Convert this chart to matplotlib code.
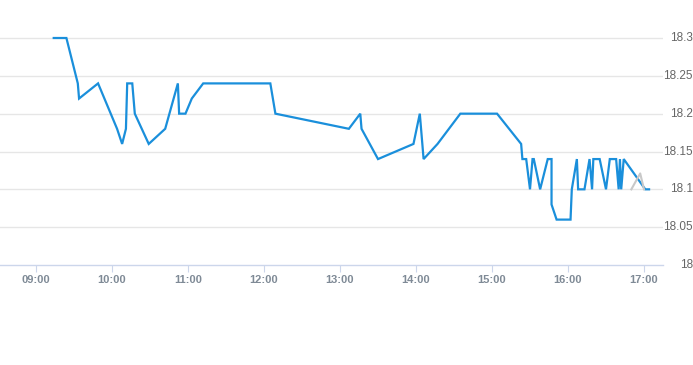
import matplotlib
matplotlib.use("Agg")
import matplotlib.pyplot as plt

# price series (time, value)
times = ["09:14", "09:24", "09:33", "09:34", "09:49", "10:04", "10:08", "10:11",
         "10:12", "10:16", "10:18", "10:29", "10:42", "10:52", "10:53", "10:58",
         "11:03", "11:12", "12:05", "12:09", "13:07", "13:16", "13:17", "13:30",
         "13:58", "14:03", "14:06", "14:17", "14:35", "15:04", "15:23", "15:24",
         "15:27", "15:30", "15:32", "15:33", "15:38", "15:44", "15:47", "15:47",
         "15:51", "16:02", "16:03", "16:07", "16:08", "16:13", "16:17", "16:19",
         "16:20", "16:25", "16:30", "16:33", "16:38", "16:40", "16:41", "16:42",
         "16:44", "17:01", "17:04"]
prices = [18.30, 18.30, 18.24, 18.22, 18.24, 18.18, 18.16, 18.18,
          18.24, 18.24, 18.20, 18.16, 18.18, 18.24, 18.20, 18.20,
          18.22, 18.24, 18.24, 18.20, 18.18, 18.20, 18.18, 18.14,
          18.16, 18.20, 18.14, 18.16, 18.20, 18.20, 18.16, 18.14,
          18.14, 18.10, 18.14, 18.14, 18.10, 18.14, 18.14, 18.08,
          18.06, 18.06, 18.10, 18.14, 18.10, 18.10, 18.14, 18.10,
          18.14, 18.14, 18.10, 18.14, 18.14, 18.10, 18.14, 18.10,
          18.14, 18.10, 18.10]

# small grey marker series near the close
marker_times = ["16:50", "16:57", "17:00"]
marker_vals = [18.10, 18.121, 18.10]

yticks = [18.0, 18.05, 18.1, 18.15, 18.2, 18.25, 18.3]
ytick_labels = ["18", "18.05", "18.1", "18.15", "18.2", "18.25", "18.3"]
xtick_labels = ["09:00", "10:00", "11:00", "12:00", "13:00", "14:00", "15:00", "16:00", "17:00"]


def to_h(s):
    h, m = s.split(":")
    return int(h) + int(m) / 60.0


x = [to_h(t) for t in times]
mx = [to_h(t) for t in marker_times]
xt = [to_h(t) for t in xtick_labels]

fig = plt.figure(figsize=(6.93, 3.65), dpi=100)
ax = fig.add_axes([0, 100 / 365, 663 / 693, 245 / 365])

# x range: 09:00 sits at 36px, 76px per hour
x0 = 9 - 36 / 76
x1 = 9 + (663 - 36) / 76
ax.set_xlim(x0, x1)
ytop = 18.3 + (38 - 20) * 0.3 / 227
ax.set_ylim(18.0, ytop)

for v in yticks[1:]:
    ax.axhline(v, color="#e6e6e6", lw=1, zorder=0)

ax.plot(x, prices, color="#1a8fdb", lw=1.6, zorder=3, solid_joinstyle="miter")
ax.plot(mx, marker_vals, color="#c8c8c8", lw=1.5, zorder=4)

for s in ax.spines.values():
    s.set_visible(False)
ax.spines["bottom"].set_visible(True)
ax.spines["bottom"].set_color("#ccd6eb")
ax.spines["bottom"].set_linewidth(1)

ax.set_xticks(xt)
ax.set_xticklabels(xtick_labels, fontsize=8, color="#7f8a96", fontweight="bold",
                   family=["Liberation Sans", "DejaVu Sans"])
ax.tick_params(axis="x", length=5, color="#ccd6eb", pad=2)
ax.set_yticks([])

for v, lab in zip(yticks, ytick_labels):
    fig.text(693 / 693, ax.transData.transform((x0, v))[1] / 365, lab,
             ha="right", va="center", fontsize=8.5, color="#666666",
             family=["Liberation Sans", "DejaVu Sans"])

fig.savefig("out.png", dpi=100)
